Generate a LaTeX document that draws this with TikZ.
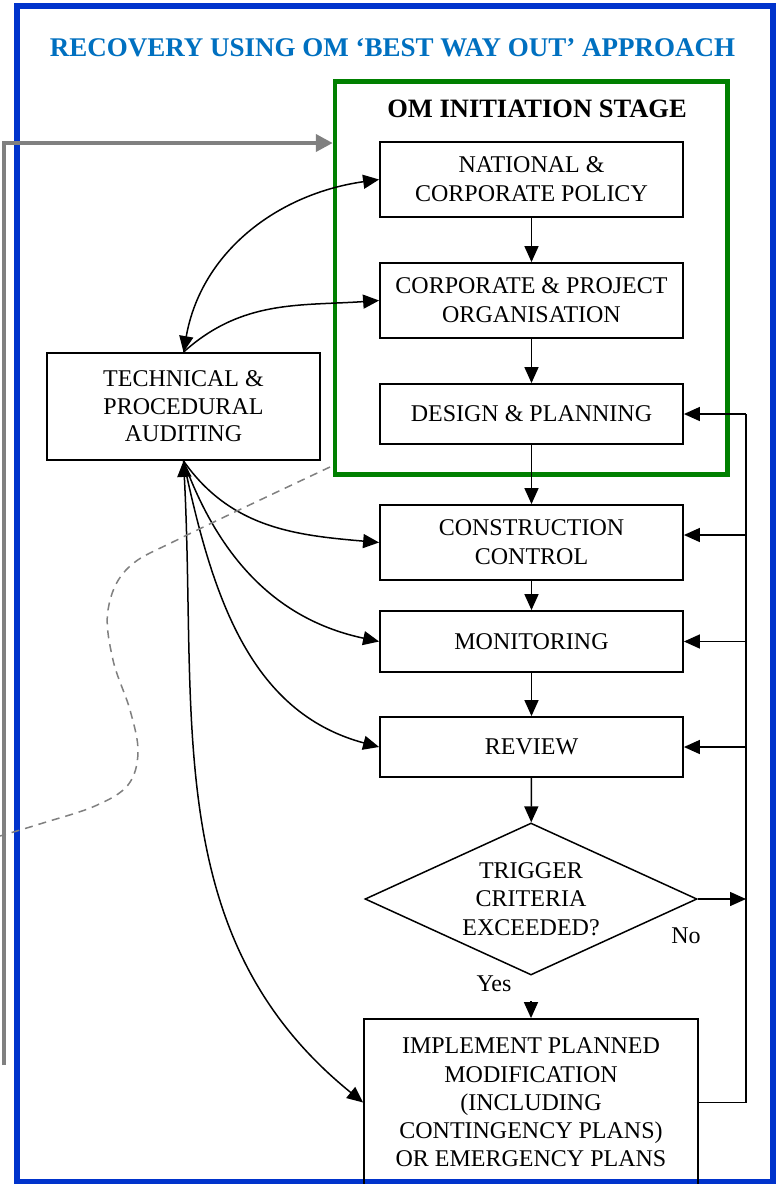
\documentclass[tikz,border=0pt]{standalone}
\usepackage{fontspec}
\setmainfont{Liberation Serif}
\usetikzlibrary{arrows.meta,shapes.geometric}
\definecolor{frameblue}{RGB}{0,51,204}
\definecolor{titleblue}{RGB}{0,112,192}
\definecolor{stagegreen}{RGB}{0,128,0}
\definecolor{flowgrey}{RGB}{128,128,128}

\begin{document}
\begin{tikzpicture}[x=1pt,y=1pt,
  box/.style={draw, line width=1.8pt, rectangle, align=center, inner sep=0pt,
    font=\fontsize{24}{29}\selectfont, minimum width=303pt},
  decision/.style={draw, line width=1.5pt, diamond, aspect=2.18, inner sep=0pt,
    minimum width=332pt, minimum height=152pt, align=center,
    font=\fontsize{24}{28.5}\selectfont},
  lbl/.style={inner sep=0pt, font=\fontsize{24}{28}\selectfont},
  arr/.style={line width=1.5pt, -{Triangle[length=16pt,width=14pt]}},
  biarr/.style={line width=1.5pt, {Triangle[length=16pt,width=14pt]}-{Triangle[length=16pt,width=14pt]}},
  link/.style={line width=1.5pt},
  stageframe/.style={draw=stagegreen, line width=4.5pt, rectangle, inner sep=0pt},
  greyflow/.style={draw=flowgrey, line width=4pt, -{Triangle[length=17pt,width=17pt]}},
  wander/.style={draw=flowgrey, line width=1.5pt, dash pattern=on 8pt off 6pt}
]
\useasboundingbox (0,0) rectangle (776,-1184);
\clip (0,0) rectangle (776,-1184);
\fill[white] (0,0) rectangle (776,-1184);

% outer frame and heading
\draw[frameblue, line width=5.5pt] (17,-6) rectangle (773,-1182);
\node[anchor=base, inner sep=0pt, text=titleblue,
  font=\fontsize{27}{32}\selectfont\bfseries] (title) at (392.5,-56)
  {RECOVERY USING OM ‘BEST WAY OUT’ APPROACH};

% initiation stage frame
\node[stageframe, minimum width=392.5pt, minimum height=393pt] (stage) at (531.25,-278) {};
\node[anchor=base, inner sep=0pt, font=\fontsize{26.5}{31}\selectfont\bfseries]
  (stagetitle) at (537,-117) {OM INITIATION STAGE};

% main flow
\node[box, minimum height=75pt] (box1) at (531.5,-179.5) {NATIONAL \&\\CORPORATE POLICY};
\node[box, minimum height=75pt] (box2) at (531.5,-300.5) {CORPORATE \& PROJECT\\ORGANISATION};
\node[box, minimum height=60pt] (box3) at (531.5,-414) {DESIGN \& PLANNING};
\node[box, minimum height=75pt] (box4) at (531.5,-542.5) {CONSTRUCTION\\CONTROL};
\node[box, minimum height=61pt] (box5) at (531.5,-641.5) {MONITORING};
\node[box, minimum height=60pt] (box6) at (531.5,-747) {REVIEW};
\node[decision] (dia) at (531,-899) {TRIGGER\\CRITERIA\\EXCEEDED?};
\node[box, minimum width=334pt, minimum height=167pt,
  font=\fontsize{24}{28.25}\selectfont] (bot) at (531,-1102.5)
  {IMPLEMENT PLANNED\\MODIFICATION\\(INCLUDING\\CONTINGENCY PLANS)\\OR EMERGENCY PLANS};

% auditing
\node[box, minimum width=273pt, minimum height=107pt,
  font=\fontsize{24}{27.5}\selectfont] (audit) at (183.5,-406.5)
  {TECHNICAL \&\\PROCEDURAL\\AUDITING};

\node[lbl] (yes) at (494,-984) {Yes};
\node[lbl] (no) at (686,-936) {No};

% downward flow
\draw[arr] (box1) -- (box2);
\draw[arr] (box2) -- (box3);
\draw[arr] (box3) -- (box4);
\draw[arr] (box4) -- (box5);
\draw[arr] (box5) -- (box6);
\draw[arr] (box6) -- (dia);
\coordinate (yesTop) at (531,-1001);
\draw[arr] (yesTop) -- (bot.north);

% feedback loop on the right
\coordinate (fbTop) at (746,-414);
\coordinate (fb4) at (746,-535);
\coordinate (fb5) at (746,-641.5);
\coordinate (fb6) at (746,-747);
\coordinate (fbD) at (746,-899);
\coordinate (fbBot) at (746,-1102.5);
\draw[link] (bot.east) -- (fbBot) -- (fbTop);
\draw[arr] (fbTop) -- (box3.east);
\draw[arr] (fb4) -- (fb4 -| box4.east);
\draw[arr] (fb5) -- (fb5 -| box5.east);
\draw[arr] (fb6) -- (fb6 -| box6.east);
\draw[arr] (dia.east) -- (fbD);

% auditing links
\draw[biarr] (audit.north) to[out=80,in=188] (box1.west);
\draw[arr] (audit.north) to[out=42,in=184] (box2.west);
\draw[arr] (audit.south) to[out=-55,in=175] (box4.west);
\draw[arr] (audit.south) to[out=-70,in=168] (box5.west);
\draw[arr] (audit.south) to[out=-78,in=165] (box6.west);
\draw[biarr] (audit.south) to[out=-87,in=141] (bot.west);

% grey return path
\coordinate (gStart) at (3.5,-1065);
\coordinate (gCorner) at (3.5,-143);
\draw[greyflow] (gStart) -- (gCorner) -- (gCorner -| stage.west);

% dashed boundary
\draw[wander] plot[smooth, tension=0.6] coordinates {(330,-467) (183,-537) (128,-568)
  (108,-610) (113,-660) (130,-710) (138,-752) (128,-785) (95,-806) (43,-823) (0,-836)};
\end{tikzpicture}
\end{document}
